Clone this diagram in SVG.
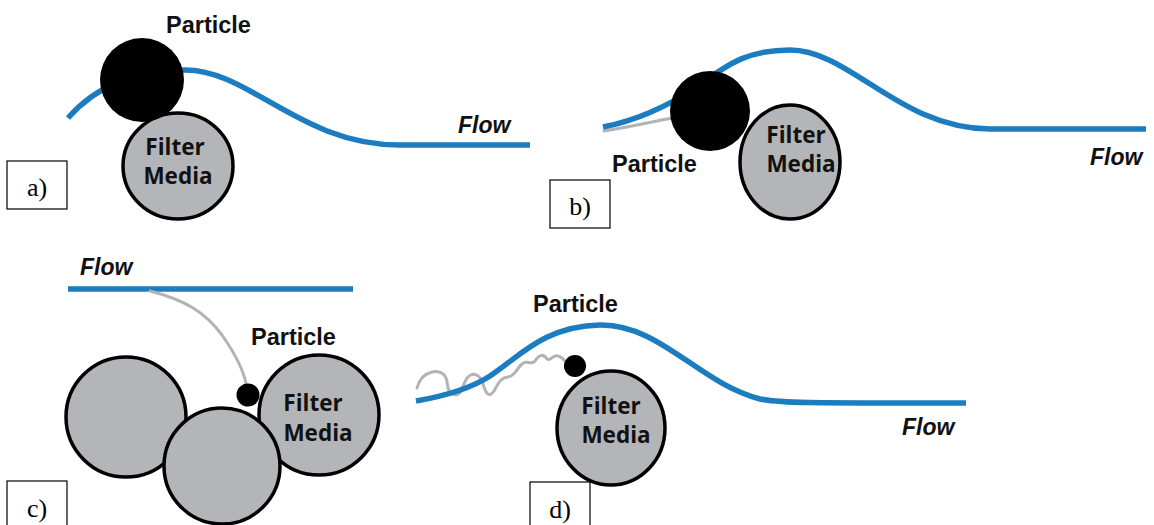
<svg xmlns="http://www.w3.org/2000/svg" width="1154" height="525" viewBox="0 0 1154 525">
  <style>
    .flow { fill: none; stroke: #1b7cc0; stroke-width: 5.5; stroke-linecap: butt; }
    .path { fill: none; stroke: #b1b3b6; stroke-width: 3; stroke-linejoin: round; stroke-linecap: round; }
    .media { fill: #b3b5b8; stroke: #000; stroke-width: 3.5; }
    .particle { fill: #000; }
    .ptxt { font-family: "Liberation Sans", Arial, sans-serif; font-weight: 700; font-size: 23.5px; fill: #111; }
    .ftxt { font-family: "Liberation Sans", Arial, sans-serif; font-weight: 700; font-style: italic; font-size: 23px; fill: #111; }
    .mtxt { font-family: "Open Sans", "Liberation Sans", sans-serif; font-weight: 700; font-size: 22.5px; fill: #111; text-anchor: middle; }
    .box { fill: #fff; stroke: #000; stroke-width: 1.2; }
    .btxt { font-family: "Liberation Serif", "Times New Roman", serif; font-size: 26px; fill: #000; text-anchor: middle; }
  </style>

  <!-- streamlines and particle trajectories -->
  <g id="connectors">
    <path class="flow" d="M68,118 Q110,70 185,70 C250,70 300,145 400,145 L530,145"/>
    <path class="path" d="M604,131 C630,127 650,122 672,118"/>
    <path class="flow" d="M603,127 C640,120 670,105 700,85 C730,62 750,50 790,50 C850,50 900,129 990,129 L1146,129"/>
    <path class="flow" d="M68,289 L353,289"/>
    <path class="path" d="M150,291 C185,300 205,312 222,335 C238,358 246,375 247,390"/>
    <path class="path" d="M417,388 C419,380 424,374 432,372 C440,370 446,374 447,382 C448,390 449,394 456,395 C462,395 463,382 468,377 C473,372 480,374 483,384 C486,394 489,398 494,391 C498,384 500,378 508,377 C515,376 517,368 522,364 C527,359 531,366 535,361 C539,355 543,353 547,359 C550,362 553,354 558,356 C562,357 564,360 567,363"/>
    <path class="flow" d="M416,401 C445,396 470,389 490,376 C520,356 545,326 600,325 C660,324 700,384 760,399 C780,403 800,403 966,403"/>
  </g>

  <!-- a) interception -->
  <g id="panel-a">
    <text class="ptxt" x="166" y="33">Particle</text>
    <ellipse class="media" cx="178" cy="166" rx="55" ry="53"/>
    <circle class="particle" cx="142" cy="80" r="42"/>
    <text class="mtxt" x="175" y="155">Filter</text>
    <text class="mtxt" x="178" y="184">Media</text>
    <text class="ftxt" x="458" y="133">Flow</text>
    <rect class="box" x="7" y="161" width="60" height="48"/>
    <text class="btxt" x="37" y="196">a)</text>
  </g>

  <!-- b) inertial impaction -->
  <g id="panel-b">
    <ellipse class="media" cx="790" cy="162" rx="50" ry="57"/>
    <circle class="particle" cx="710" cy="111" r="40"/>
    <text class="mtxt" x="796" y="143">Filter</text>
    <text class="mtxt" x="801" y="172">Media</text>
    <text class="ptxt" x="612" y="172">Particle</text>
    <text class="ftxt" x="1090" y="165">Flow</text>
    <rect class="box" x="550" y="180" width="60" height="48"/>
    <text class="btxt" x="580" y="215">b)</text>
  </g>

  <!-- c) straining -->
  <g id="panel-c">
    <text class="ftxt" x="80" y="275">Flow</text>
    <text class="ptxt" x="251" y="345">Particle</text>
    <circle class="media" cx="126" cy="417" r="60"/>
    <circle class="media" cx="319" cy="415" r="60"/>
    <circle class="media" cx="222" cy="466" r="58"/>
    <circle class="particle" cx="248" cy="395" r="11.5"/>
    <text class="mtxt" x="313" y="411">Filter</text>
    <text class="mtxt" x="318" y="441">Media</text>
    <rect class="box" x="7" y="481" width="60" height="48"/>
    <text class="btxt" x="37" y="517">c)</text>
  </g>

  <!-- d) diffusion -->
  <g id="panel-d">
    <text class="ptxt" x="533" y="312">Particle</text>
    <ellipse class="media" cx="611" cy="428" rx="54" ry="57"/>
    <circle class="particle" cx="575" cy="366" r="11"/>
    <text class="mtxt" x="611" y="414">Filter</text>
    <text class="mtxt" x="616" y="443">Media</text>
    <text class="ftxt" x="902" y="435">Flow</text>
    <rect class="box" x="530" y="482" width="60" height="48"/>
    <text class="btxt" x="560" y="518">d)</text>
  </g>
</svg>
